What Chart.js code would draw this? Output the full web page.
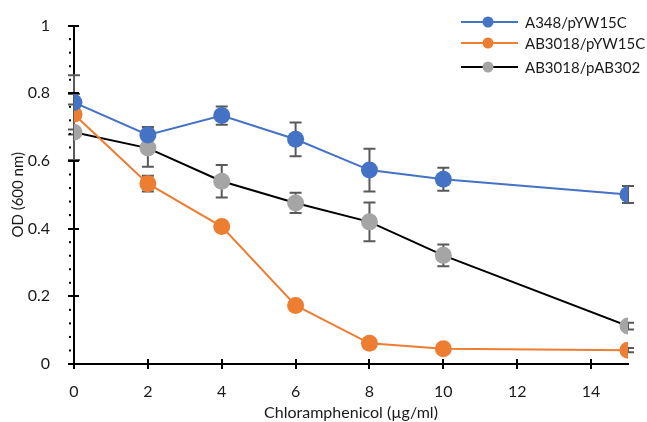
<!DOCTYPE html>
<html>
<head>
<meta charset="utf-8">
<script src="https://cdn.jsdelivr.net/npm/chart.js@4"></script>
<style>
  html, body { margin: 0; padding: 0; background: #fff; }
  #wrap { width: 647px; height: 422px; position: relative; }
</style>
</head>
<body>
<div id="wrap"><canvas id="odChart"></canvas></div>
<script>
// chloramphenicol dose (ug/ml)
const doses = [0, 2, 4, 6, 8, 10, 15];
const seriesNames = ['A348/pYW15C', 'AB3018/pYW15C', 'AB3018/pAB302'];
const a348Mean = [0.773, 0.677, 0.734, 0.664, 0.573, 0.546, 0.501];
const a348Err = [0.08, 0.023, 0.027, 0.05, 0.063, 0.034, 0.025];
const ab3018Mean = [0.738, 0.533, 0.406, 0.173, 0.061, 0.045, 0.041];
const ab3018Err = [0.06, 0.023, 0.01, 0.01, 0.008, 0.008, 0.006];
const pab302Mean = [0.685, 0.638, 0.54, 0.476, 0.42, 0.321, 0.112];
const pab302Err = [0.082, 0.055, 0.048, 0.03, 0.057, 0.032, 0.01];

const COLORS = {
  blue: '#4472C4',
  orange: '#ED7D31',
  gray: '#A5A5A5',
  black: '#000000',
  err: '#595959',
  text: '#1a1a1a'
};
const FONT = 'Lato';

function toPoints(mean) {
  return doses.map((d, i) => ({ x: d, y: mean[i] }));
}

const errors = [a348Err, ab3018Err, pab302Err];

const data = {
  datasets: [
    {
      label: seriesNames[0],
      data: toPoints(a348Mean),
      borderColor: COLORS.blue,
      backgroundColor: COLORS.blue,
      pointBackgroundColor: COLORS.blue,
      pointBorderColor: COLORS.blue,
    },
    {
      label: seriesNames[1],
      data: toPoints(ab3018Mean),
      borderColor: COLORS.orange,
      backgroundColor: COLORS.orange,
      pointBackgroundColor: COLORS.orange,
      pointBorderColor: COLORS.orange,
    },
    {
      label: seriesNames[2],
      data: toPoints(pab302Mean),
      borderColor: COLORS.black,
      backgroundColor: COLORS.gray,
      pointBackgroundColor: COLORS.gray,
      pointBorderColor: COLORS.gray,
    },
  ]
};

// error bars, tick marks and the legend are drawn by hand
const extras = {
  id: 'extras',
  beforeDatasetsDraw: chart => {
    const ctx = chart.ctx;
    const xs = chart.scales.x;
    const ys = chart.scales.y;
    ctx.save();
    ctx.strokeStyle = COLORS.err;
    ctx.lineWidth = 2;
    chart.data.datasets.forEach((ds, di) => {
      ds.data.forEach((p, i) => {
        const e = errors[di][i];
        const x = xs.getPixelForValue(p.x);
        const y1 = ys.getPixelForValue(p.y + e);
        const y2 = ys.getPixelForValue(p.y - e);
        ctx.beginPath();
        ctx.moveTo(x, y1);
        ctx.lineTo(x, y2);
        ctx.moveTo(x - 6, y1);
        ctx.lineTo(x + 6, y1);
        ctx.moveTo(x - 6, y2);
        ctx.lineTo(x + 6, y2);
        ctx.stroke();
      });
    });
    ctx.restore();
  },
  afterDraw: chart => {
    const ctx = chart.ctx;
    const xs = chart.scales.x;
    const ys = chart.scales.y;
    const area = chart.chartArea;
    ctx.save();
    ctx.strokeStyle = '#000';
    ctx.lineWidth = 2;
    // major ticks crossing the axes
    ys.ticks.forEach(t => {
      const y = Math.round(ys.getPixelForValue(t.value));
      ctx.beginPath();
      ctx.moveTo(area.left - 6, y);
      ctx.lineTo(area.left + 5, y);
      ctx.stroke();
    });
    xs.ticks.forEach(t => {
      const x = Math.round(xs.getPixelForValue(t.value));
      ctx.beginPath();
      ctx.moveTo(x, area.bottom - 5);
      ctx.lineTo(x, area.bottom + 5);
      ctx.stroke();
    });
    // minor dots on the y axis
    ctx.fillStyle = '#000';
    for (let k = 1; k < 25; k++) {
      if (k % 5 === 0) continue;
      const y = ys.getPixelForValue(k * 0.04);
      ctx.fillRect(area.left - 5, y - 1, 2, 2);
    }

    // legend: line + marker + label
    const rows = [22, 43, 67];
    ctx.font = '15px ' + FONT;
    ctx.textBaseline = 'middle';
    ctx.textAlign = 'left';
    chart.data.datasets.forEach((ds, di) => {
      const y = rows[di];
      ctx.beginPath();
      ctx.strokeStyle = ds.borderColor;
      ctx.lineWidth = 2;
      ctx.moveTo(461, y);
      ctx.lineTo(518, y);
      ctx.stroke();
      ctx.beginPath();
      ctx.arc(488, y, 5.5, 0, 2 * Math.PI);
      ctx.fillStyle = ds.pointBackgroundColor;
      ctx.fill();
      ctx.fillStyle = COLORS.text;
      ctx.fillText(ds.label, 525, y + 1);
    });
    ctx.restore();
  }
};

const config = {
  type: 'line',
  data: data,
  options: {
    responsive: true,
    maintainAspectRatio: false,
    animation: false,
    layout: {
      padding: { top: 19, right: 19, left: 0, bottom: 0 }
    },
    plugins: {
      legend: { display: false },
      tooltip: { enabled: false },
    },
    elements: {
      line: { borderWidth: 2, tension: 0 },
      point: { radius: 8.5, borderWidth: 0, hoverRadius: 8.5 },
    },
    scales: {
      x: {
        type: 'linear',
        min: 0,
        max: 15,
        afterBuildTicks: axis => {
          axis.ticks = axis.ticks.filter(t => t.value % 2 === 0);
        },
        afterFit: scale => { scale.height = 58; },
        grid: { display: false },
        border: { display: true, color: '#000', width: 2 },
        ticks: {
          stepSize: 2,
          padding: 10,
          color: COLORS.text,
          font: { family: FONT, size: 16 },
        },
        title: {
          display: true,
          text: 'Chloramphenicol (µg/ml)',
          color: COLORS.text,
          font: { family: FONT, size: 16 },
          padding: { top: 0, bottom: 0 },
        },
      },
      y: {
        min: 0,
        max: 1,
        afterFit: scale => { scale.width = 74; },
        grid: { display: false },
        border: { display: true, color: '#000', width: 2 },
        ticks: {
          stepSize: 0.2,
          padding: 16,
          color: COLORS.text,
          font: { family: FONT, size: 16 },
          callback: value => String(+value.toFixed(2)),
        },
        title: {
          display: true,
          text: 'OD (600 nm)',
          color: COLORS.text,
          font: { family: FONT, size: 15 },
          padding: { top: 9, bottom: 0 },
        },
      }
    },
  },
  plugins: [extras]
};

const chartInstance = new Chart(document.getElementById('odChart').getContext('2d'), config);
</script>
</body>
</html>
